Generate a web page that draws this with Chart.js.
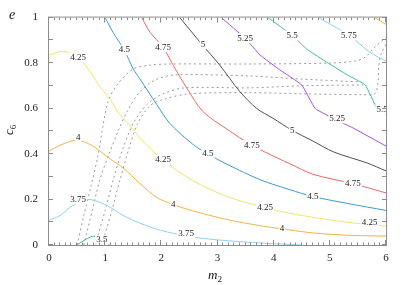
<!DOCTYPE html>
<html>
<head>
<meta charset="utf-8">
<script src="https://cdn.jsdelivr.net/npm/chart.js@4/dist/chart.umd.min.js"></script>
<style>
html,body{margin:0;padding:0;background:#fff}
</style>
</head>
<body>
<canvas id="chart" width="407" height="285"></canvas>
<script>

/* =========================
   DATA
========================= */

const xTicks = [0,1,2,3,4,5,6]
const yTicks = [0,0.2,0.4,0.6,0.8,1]

/* solid contours, m2 and c6 */

const m35 = [0.49,0.58,0.68,0.80,0.88,0.98,1.08]
const c35 = [0,0.013,0.028,0.039,0.026,0.010,0]

const m375 = [0,0.2,0.37,0.55,0.73,1.03,1.32,1.62,1.98,2.56,3.17,3.76,4.5]
const c375 = [0.109,0.130,0.165,0.188,0.200,0.174,0.130,0.096,0.065,0.035,0.019,0.009,0]

const m4 = [0,0.2,0.49,0.73,0.91,1.09,1.32,1.62,1.92,2.21,2.56,3.17,3.76,4.29,4.70,5.31,6]
const c4 = [0.413,0.439,0.461,0.442,0.413,0.378,0.339,0.270,0.209,0.178,0.150,0.112,0.085,0.066,0.053,0.043,0.039]

const m425 = [0,0.25,0.55,0.73,0.91,1.09,1.26,1.50,1.62,2.03,2.56,3.17,3.76,4.29,4.70,5.31,6]
const c425 = [0.835,0.852,0.817,0.761,0.696,0.639,0.574,0.509,0.470,0.374,0.283,0.213,0.170,0.139,0.122,0.100,0.083]

const m45 = [1.0,1.14,1.34,1.50,1.62,1.92,2.15,2.56,2.83,3.17,3.76,4.29,4.70,5.31,6]
const c45 = [1.0,0.935,0.857,0.774,0.730,0.617,0.535,0.443,0.400,0.355,0.287,0.243,0.213,0.183,0.152]

const m475 = [1.65,1.80,2.03,2.21,2.46,2.74,3.17,3.61,4.06,4.29,4.70,5.41,6]
const c475 = [1.0,0.935,0.870,0.791,0.687,0.587,0.509,0.439,0.383,0.357,0.311,0.270,0.229]

const m5 = [2.33,2.72,3.04,3.40,3.70,3.99,4.33,4.70,5.07,5.66,6]
const c5 = [1.0,0.883,0.791,0.674,0.600,0.557,0.504,0.457,0.409,0.361,0.326]

const m525 = [3.07,3.49,3.76,4.11,4.50,4.74,5.13,5.41,6]
const c525 = [1.0,0.909,0.835,0.770,0.704,0.600,0.548,0.515,0.435]

const m55 = [3.90,4.33,4.59,4.97,5.31,5.63,5.84,6]
const c55 = [1.0,0.922,0.861,0.800,0.748,0.704,0.600,0.574]

const m575 = [4.80,5.34,5.71,6]
const c575 = [1.0,0.922,0.848,0.809]

const m6 = [5.80,6]
const c6 = [1.0,0.970]

/* dashed curves */

const mD1 = [0.50,0.62,0.75,0.87,0.96,1.05,1.21,1.50,1.80,2.15,3.58,5.00,5.45,5.63,5.80,6]
const cD1 = [0,0.130,0.261,0.391,0.522,0.630,0.704,0.774,0.791,0.796,0.796,0.800,0.809,0.826,0.870,0.913]

const mD2 = [0.62,0.77,0.91,1.09,1.23,1.39,1.62,1.89,2.24,3.58,4.47,5.54]
const cD2 = [0,0.152,0.291,0.413,0.500,0.587,0.674,0.726,0.748,0.743,0.730,0.717]

const mD3 = [0.82,1.0,1.14,1.30,1.50,1.74,2.03,2.42,3.58,4.47,5.59]
const cD3 = [0,0.152,0.283,0.413,0.535,0.617,0.665,0.691,0.691,0.700,0.704]

const mD4 = [0.94,1.12,1.26,1.41,1.57,1.80,2.07,2.51,3.58,4.47,5.59,5.80,5.86,5.87,5.91,6]
const cD4 = [0,0.152,0.283,0.413,0.530,0.613,0.643,0.665,0.670,0.665,0.661,0.665,0.717,0.783,0.839,0.883]

/* contour labels */

const labelText = ['3.5','3.75','3.75','4','4','4','4.25','4.25','4.25','4.25','4.5','4.5','4.5','4.75','4.75','4.75','5','5','5.25','5.25','5.5','5.5','5.75']
const labelM = [0.94,0.52,2.44,0.52,2.21,4.15,0.52,2.03,3.85,5.71,1.34,2.83,4.70,2.03,3.61,5.41,2.74,4.33,3.49,5.13,4.33,5.93,5.34]
const labelC = [0.022,0.200,0.052,0.470,0.178,0.074,0.826,0.374,0.165,0.100,0.857,0.400,0.213,0.870,0.439,0.271,0.883,0.504,0.909,0.557,0.922,0.596,0.922]


/* =========================
   DATASETS
========================= */

function pts(m,c){
return m.map((v,i)=>({x:v,y:c[i]}))
}

const solid = [
{m:m35,c:c35,color:"#43b88c"},
{m:m375,c:c375,color:"#92d0f0"},
{m:m4,c:c4,color:"#f0b445"},
{m:m425,c:c425,color:"#f0e36c"},
{m:m45,c:c45,color:"#3b9bd6"},
{m:m475,c:c475,color:"#f06868"},
{m:m5,c:c5,color:"#505050"},
{m:m525,c:c525,color:"#a64fe0",t:0.1},
{m:m55,c:c55,color:"#3fbf96",t:0.1},
{m:m575,c:c575,color:"#8ccff0"},
{m:m6,c:c6,color:"#f0b445"}
]

const dashed = [
{m:mD1,c:cD1},
{m:mD2,c:cD2},
{m:mD3,c:cD3},
{m:mD4,c:cD4}
]

const datasets = []

solid.forEach(s=>{
datasets.push({
data:pts(s.m,s.c),
showLine:true,
borderColor:s.color,
borderWidth:1,
pointRadius:0,
tension:s.t ?? 0.3
})
})

dashed.forEach(d=>{
datasets.push({
data:pts(d.m,d.c),
showLine:true,
borderColor:"#9a9a9a",
borderWidth:1,
borderDash:[2,3],
pointRadius:0,
tension:0.3
})
})


/* =========================
   PLUGINS
========================= */

/* contour labels with white box behind */

const contourLabels = {
id:"contourLabels",
afterDatasetsDraw(chart){
const {ctx,chartArea:a,scales:{x,y}} = chart
ctx.save()
ctx.beginPath()
ctx.rect(a.left,a.top,a.right-a.left,a.bottom-a.top)
ctx.clip()
ctx.font = "9px 'Liberation Serif'"
ctx.textAlign = "center"
ctx.textBaseline = "middle"
labelText.forEach((t,i)=>{
const px = x.getPixelForValue(labelM[i])
const py = y.getPixelForValue(labelC[i])
const w = ctx.measureText(t).width
ctx.fillStyle = "#fff"
ctx.fillRect(px-w/2-1,py-5,w+2,10)
ctx.fillStyle = "#222"
ctx.fillText(t,px,py)
})
ctx.restore()
}
}

/* box, inward ticks, axis titles */

const frame = {
id:"frame",
afterDraw(chart){
const {ctx,chartArea:a,scales:{x,y}} = chart
ctx.save()
ctx.strokeStyle = "#8c8c8c"
ctx.lineWidth = 1
ctx.strokeRect(a.left-0.5,a.top-0.5,a.right-a.left+1,a.bottom-a.top+1)

ctx.beginPath()
for(let i=0;i<=60;i++){
const px = Math.round(x.getPixelForValue(i/10))-0.5
const len = i%10===0 ? 5 : 2.5
ctx.moveTo(px,a.bottom); ctx.lineTo(px,a.bottom-len)
ctx.moveTo(px,a.top); ctx.lineTo(px,a.top+len)
}
for(let i=0;i<=10;i++){
const py = Math.round(y.getPixelForValue(i/10))-0.5
ctx.moveTo(a.left,py); ctx.lineTo(a.left+4,py)
ctx.moveTo(a.right,py); ctx.lineTo(a.right-4,py)
}
ctx.stroke()

ctx.fillStyle = "#111"
ctx.textBaseline = "alphabetic"

/* e */
ctx.font = "italic 14px 'Liberation Serif'"
ctx.textAlign = "center"
ctx.fillText("e",12,19)

/* m2 */
ctx.textAlign = "left"
ctx.font = "italic 13px 'Liberation Serif'"
ctx.fillText("m",208,279)
const mw = ctx.measureText("m").width
ctx.font = "9px 'Liberation Serif'"
ctx.fillText("2",208+mw,282)

/* c6 */
ctx.translate(13,135)
ctx.rotate(-Math.PI/2)
ctx.font = "italic 13px 'Liberation Serif'"
ctx.fillText("c",0,0)
const cw = ctx.measureText("c").width
ctx.font = "9px 'Liberation Serif'"
ctx.fillText("6",cw,3)

ctx.restore()
}
}


/* =========================
   CHART
========================= */

const tickFont = {family:"'Liberation Serif'",size:11}

new Chart(document.getElementById("chart"),{

type:"scatter",

data:{datasets},

options:{
responsive:false,
animation:false,
devicePixelRatio:1,
layout:{padding:{left:0,right:21,top:15,bottom:0}},
plugins:{
legend:{display:false},
tooltip:{enabled:false}
},
scales:{
x:{
type:"linear",
min:0,
max:6,
grid:{display:false,drawTicks:false},
border:{display:false},
ticks:{font:tickFont,color:"#222",padding:7,callback:v=>String(v)},
afterBuildTicks:s=>{s.ticks = xTicks.map(v=>({value:v}))},
afterFit:s=>{s.height = 40}
},
y:{
type:"linear",
min:0,
max:1,
grid:{display:false,drawTicks:false},
border:{display:false},
ticks:{font:tickFont,color:"#222",padding:11,callback:v=>String(v)},
afterBuildTicks:s=>{s.ticks = yTicks.map(v=>({value:v}))},
afterFit:s=>{s.width = 49}
}
}
},

plugins:[contourLabels,frame]

})

</script>
</body>
</html>
